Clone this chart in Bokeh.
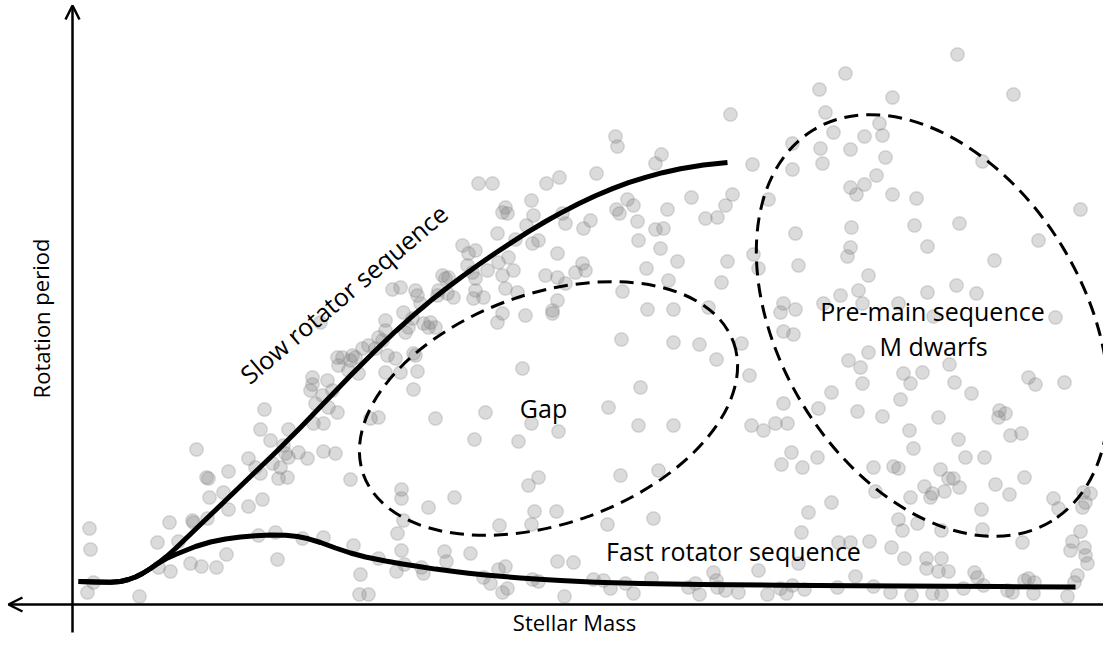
from bokeh.plotting import figure
from bokeh.models import Range1d, Arrow, OpenHead, ColumnDataSource
from bokeh.core.properties import value
from bokeh.embed import file_html
from bokeh.resources import INLINE

# --- star sample: stellar mass (x) and rotation period (y, screen-down units) ---
mass = [
    478, 492, 546, 559, 596, 531, 505, 507, 502, 533, 526, 562, 565, 583, 590, 497,
    845, 819, 825, 833, 792, 820, 850, 822, 792, 752, 730, 615, 617, 661, 655, 627,
    633, 616, 619, 667, 691, 732, 725, 705, 717, 637, 768, 655, 663, 850, 856, 864, 851, 795,
    957, 892, 1013, 879, 864, 882, 885, 982, 876, 892, 916, 1080, 914, 959,
    320, 337, 312, 327, 310, 312, 322, 332, 264, 315, 328,
    515, 462, 475, 468, 532, 538, 557, 508, 498, 487, 513, 467, 472, 442, 448, 445,
    475, 502, 582, 575, 585, 545, 557, 565, 400, 392, 415, 417, 438, 437, 447, 453,
    475, 473, 483, 505, 517, 557, 552, 552, 525, 497, 502, 403, 412, 420, 385, 385,
    408, 423, 428, 435, 430, 405, 378, 382, 368, 375, 362, 352, 342, 350, 355, 387,
    395, 413, 415, 338, 348, 358, 385, 400, 417, 413, 522, 485, 435, 378, 370, 337,
    638, 660, 677, 646, 668, 622, 647, 673, 708, 621, 673, 699, 716, 741, 749, 640,
    608, 727, 721, 753, 758, 798, 783, 780, 795, 783, 793, 840, 823, 848, 831, 818,
    783, 850, 847, 857,
    927, 1038, 994, 868, 858, 927, 956, 976, 898, 862, 933, 1055, 868, 860, 903, 922,
    910, 949, 954, 971, 900, 862, 1028, 1035, 1064, 999, 1005, 998, 938, 882,
    260, 288, 313, 323, 270, 196, 283, 285, 288, 298, 307, 323, 248, 255, 272, 280,
    260, 278, 287, 228, 206, 208, 223, 209, 248, 262, 228, 192, 193, 207, 169, 157,
    178, 89, 90, 258, 275, 302, 323, 226, 277, 190, 201, 216, 170, 158, 93, 87, 139,
    531, 558, 474, 518, 335, 350, 401, 401, 454, 428, 403, 397, 528, 538, 534, 556,
    531, 499, 353, 401, 378, 444, 446, 470, 396, 404, 421, 423, 360, 359, 368, 483,
    490, 498, 505, 502, 507, 532, 538, 557, 573, 564, 593,
    638, 673, 751, 763, 775, 787, 791, 781, 802, 817, 620, 658, 607, 653, 808, 831,
    801, 838, 850, 758, 713, 798, 603, 610, 625, 633, 651, 688, 695, 699, 716, 717,
    725, 738, 767, 780, 792, 786, 804, 837, 855,
    909, 913, 958, 965, 984, 1010, 1021, 873, 893, 898, 940, 948, 953, 959, 924, 944,
    932, 930, 910, 875, 995, 1009, 1024, 981, 1053, 1058, 1083, 1090, 1082, 1085, 898, 902,
    917, 941, 982, 1022, 1080, 1072, 1070, 1084, 1085, 1087, 869, 891, 904, 926, 926, 941,
    938, 948, 974, 977, 983, 963, 932, 941, 911, 890, 873, 1007, 1012, 1024, 1028, 1034,
    1033, 1067, 1077, 1074,
]
period = [
    183, 183, 183, 177, 173, 200, 207, 213, 212, 215, 225, 213, 223, 228, 220, 233,
    73, 89, 112, 132, 143, 148, 149, 163, 169, 164, 114, 136, 146, 154, 163, 199,
    205, 209, 213, 209, 197, 194, 205, 218, 217, 221, 199, 229, 228, 187, 194, 184, 227, 233,
    54, 97, 94, 123, 136, 135, 157, 161, 175, 194, 198, 209, 225, 223,
    322, 357, 377, 380, 390, 384, 395, 390, 409, 403, 407,
    239, 245, 250, 253, 243, 240, 253, 257, 262, 270, 270, 265, 272, 275, 277, 278,
    278, 275, 263, 272, 270, 275, 277, 283, 287, 289, 290, 295, 290, 295, 293, 297,
    290, 298, 297, 288, 292, 300, 310, 313, 315, 322, 313, 312, 318, 303, 320, 330,
    327, 323, 327, 327, 322, 332, 337, 340, 345, 348, 348, 355, 357, 360, 357, 355,
    358, 353, 355, 365, 370, 373, 372, 372, 371, 389, 368, 412, 418, 417, 418, 412,
    240, 248, 261, 268, 280, 291, 309, 309, 307, 339, 342, 344, 359, 343, 375, 387,
    407, 261, 282, 254, 268, 265, 303, 312, 309, 331, 334, 295, 303, 360, 392, 408,
    403, 247, 256, 411,
    246, 240, 260, 275, 290, 292, 285, 293, 303, 303, 316, 317, 352, 367, 373, 372,
    383, 364, 382, 393, 399, 383, 377, 384, 382, 410, 413, 417, 417, 416,
    429, 429, 423, 423, 440, 449, 445, 453, 457, 452, 458, 451, 458, 467, 463, 467,
    473, 478, 477, 471, 477, 478, 492, 497, 506, 499, 509, 520, 522, 518, 522, 542,
    541, 528, 549, 535, 532, 538, 537, 554, 559, 563, 566, 567, 571, 567, 582, 592, 596,
    423, 431, 439, 441, 453, 479, 489, 498, 497, 507, 520, 533, 485, 477, 511, 511,
    524, 525, 545, 550, 558, 551, 561, 553, 571, 564, 567, 573, 574, 594, 594, 577,
    583, 569, 566, 592, 588, 579, 581, 561, 562, 596, 579,
    425, 425, 425, 430, 423, 423, 452, 464, 467, 457, 475, 470, 524, 518, 512, 502,
    532, 542, 542, 570, 572, 563, 580, 588, 583, 593, 578, 587, 583, 594, 580, 587,
    590, 592, 594, 588, 585, 593, 589, 587, 576,
    430, 448, 439, 457, 457, 435, 433, 467, 466, 468, 469, 478, 478, 487, 486, 491,
    493, 497, 497, 491, 484, 494, 477, 509, 498, 508, 492, 493, 507, 502, 519, 530,
    523, 530, 529, 542, 531, 541, 550, 547, 555, 563, 541, 547, 558, 558, 568, 558,
    571, 571, 572, 577, 585, 588, 593, 594, 595, 592, 586, 590, 592, 580, 578, 582,
    593, 596, 575, 582,
]

# --- schematic sequences ---
slow_mass = [78, 95, 110, 120, 128, 135, 142, 150, 158, 166, 175, 200, 225, 250, 275,
             300, 325, 350, 375, 395, 413, 430, 445, 462, 478, 495, 512, 528, 545, 560,
             578, 595, 612, 628, 645, 662, 680, 703, 727]
slow_period = [581, 581.5, 581.8, 581, 579, 576.5, 573, 568, 562.5, 556, 548, 524, 500,
               476, 452, 427, 401, 375, 350, 330.8, 314.6, 300.3, 288.5, 275.7, 264.2,
               252.5, 241.3, 231.2, 221, 212.6, 203.2, 195.2, 188.1, 182.2, 176.8, 172.2,
               168.2, 164.5, 162.1]
fast_mass = [78, 95, 110, 120, 128, 135, 142, 150, 158, 166, 175, 185, 195, 210, 225,
             240, 255, 270, 285, 297, 308, 320, 335, 350, 365, 385, 402, 420, 435, 452,
             468, 485, 500, 520, 535, 560, 595, 640, 700, 780, 855, 950, 1000, 1075]
fast_period = [581, 581.5, 581.8, 581, 579, 576.5, 573, 568, 562.5, 558, 554, 550, 546,
               541.5, 538.5, 536.5, 535.2, 534.6, 534.8, 536, 538.3, 542, 547.5, 552.5,
               556.5, 560.5, 563.5, 566.3, 568.6, 570.8, 572.7, 574.4, 575.8, 577.4,
               578.5, 580, 581.7, 583, 584, 584.7, 585.2, 585.8, 586.1, 586.6]

# --- regions (centre, full axes, tilt) ---
reg_x = [548, 932]
reg_y = [408, 325]
reg_w = [393, 458]
reg_h = [230, 304]
reg_angle = [0.342, -1.023]

labels = ["Slow rotator sequence", "Gap", "Pre-main sequence", "M dwarfs", "Fast rotator sequence"]
lab_x = [343, 543, 932, 933, 733]
lab_y = [293, 407, 310, 345, 550]
lab_angle = [0.70, 0, 0, 0, 0]

axis_titles = ["Rotation period", "Stellar Mass"]
title_x = [40, 574]
title_y = [318, 621]
title_angle = [1.5708, 0]

FONT = "Open Sans"

p = figure(width=1103, height=638, output_backend="svg", toolbar_location=None,
           x_range=Range1d(0, 1103), y_range=Range1d(638, 0),
           min_border=0, min_border_left=0, min_border_right=0,
           min_border_top=0, min_border_bottom=0)
p.axis.visible = False
p.grid.visible = False
p.outline_line_color = None
p.background_fill_color = "white"
p.border_fill_color = "white"

p.scatter(mass, period, size=13.5, fill_color="#7f7f7f", fill_alpha=0.28,
          line_color="#7f7f7f", line_alpha=0.25, line_width=1.5)

p.line(slow_mass, slow_period, line_width=5, line_color="black",
       line_join="round", line_cap="butt")
p.line(fast_mass, fast_period, line_width=5, line_color="black",
       line_join="round", line_cap="butt")

p.ellipse(x=reg_x, y=reg_y, width=reg_w, height=reg_h, angle=reg_angle,
          fill_color=None, line_color="black", line_width=3, line_dash="14 8")

src = ColumnDataSource(dict(x=lab_x, y=lab_y, t=labels, a=lab_angle))
p.text(x="x", y="y", text="t", angle="a", source=src, text_font=value(FONT),
       text_font_size="25px", text_align="center", text_baseline="middle",
       text_color="black")

axis_src = ColumnDataSource(dict(x=title_x, y=title_y, t=axis_titles, a=title_angle))
p.text(x="x", y="y", text="t", angle="a", source=axis_src, text_font=value(FONT),
       text_font_size="22px", text_align="center", text_baseline="middle",
       text_color="black")

p.add_layout(Arrow(end=OpenHead(size=14, line_width=2.5), x_start=72, y_start=632,
                   x_end=72, y_end=5, line_width=2.5))
p.add_layout(Arrow(end=OpenHead(size=14, line_width=2.5), x_start=1116, y_start=604,
                   x_end=8, y_end=604, line_width=2.5))

open("out.html", "w").write(file_html(p, INLINE))
